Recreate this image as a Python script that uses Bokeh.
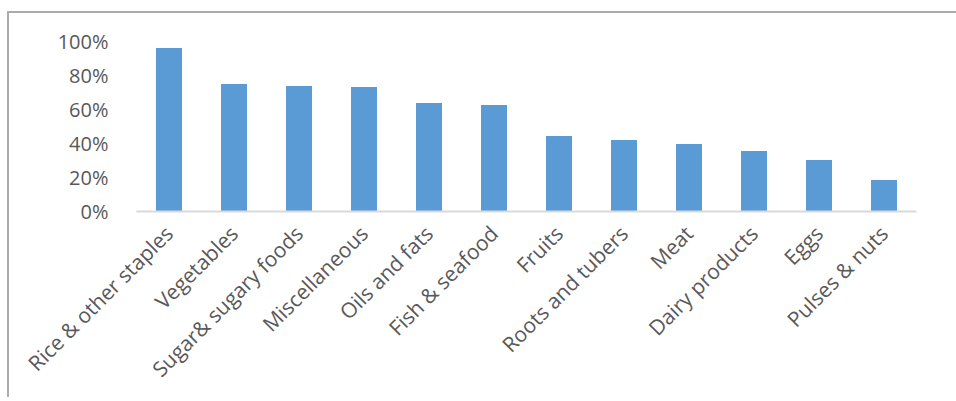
from math import pi
from bokeh.plotting import figure
from bokeh.layouts import column
from bokeh.models import FactorRange, Range1d, FixedTicker, NumeralTickFormatter
from bokeh.embed import file_html
from bokeh.resources import INLINE

categories = ["Rice & other staples", "Vegetables", "Sugar& sugary foods", "Miscellaneous",
              "Oils and fats", "Fish & seafood", "Fruits", "Roots and tubers", "Meat",
              "Dairy products", "Eggs", "Pulses & nuts"]
values = [0.962, 0.75, 0.738, 0.732, 0.638, 0.626, 0.444, 0.421, 0.397, 0.356, 0.303, 0.185]
y_ticks = [0, 0.2, 0.4, 0.6, 0.8, 1.0]

p = figure(x_range=FactorRange(*categories, range_padding=0), y_range=Range1d(0, 1),
           width=970, height=384, output_backend="svg", toolbar_location=None,
           min_border_left=127, min_border_right=40, min_border_top=28, min_border_bottom=186)

p.vbar(x=categories, top=values, width=0.4, color="#5B9BD5", line_color=None)

p.xgrid.grid_line_color = None
p.ygrid.grid_line_color = None
p.outline_line_color = None

p.yaxis.ticker = FixedTicker(ticks=y_ticks)
p.yaxis.formatter = NumeralTickFormatter(format="0%")
p.yaxis.axis_line_color = None
p.yaxis.major_tick_line_color = None
p.yaxis.minor_tick_line_color = None
p.yaxis.major_label_standoff = 22
p.yaxis.major_label_text_font = "Open Sans"
p.yaxis.major_label_text_font_size = "20px"
p.yaxis.major_label_text_color = "#595959"

p.xaxis.axis_line_color = "#D9D9D9"
p.xaxis.axis_line_width = 2
p.xaxis.major_tick_line_color = None
p.xaxis.minor_tick_line_color = None
p.xaxis.major_label_orientation = pi / 4
p.xaxis.major_label_standoff = 12
p.xaxis.major_label_text_font = "Open Sans"
p.xaxis.major_label_text_font_size = "21px"
p.xaxis.major_label_text_color = "#595959"

layout = column(p, styles={"border-left": "2px solid #ABABAB", "border-top": "2px solid #ABABAB",
                           "margin-left": "7px", "margin-top": "11px", "overflow": "hidden",
                           "max-width": "947px", "box-sizing": "content-box"})

open("out.html", "w").write(file_html(layout, INLINE))
